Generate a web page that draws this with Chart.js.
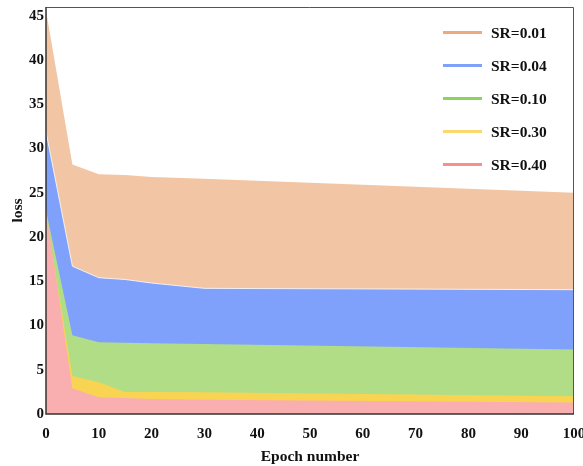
<!DOCTYPE html>
<html><head><meta charset="utf-8">
<script src="https://cdn.jsdelivr.net/npm/chart.js@4.4.0/dist/chart.umd.min.js"></script>
<style>html,body{margin:0;padding:0;background:#fff}#wrap{width:583px;height:466px}</style>
</head><body><div id="wrap"><canvas id="c" width="583" height="466"></canvas></div>
<script>
const epochs = [0, 5, 10, 15, 20, 30, 100];
const labels = ['SR=0.01', 'SR=0.04', 'SR=0.10', 'SR=0.30', 'SR=0.40'];
const sr001 = [45.6, 28.2, 27.1, 27.0, 26.8, 26.6, 25.0];
const sr004 = [31.9, 16.7, 15.4, 15.2, 14.8, 14.2, 14.05];
const sr010 = [23.0, 8.9, 8.1, 8.05, 8.0, 7.9, 7.3];
const sr030 = [22.5, 4.3, 3.6, 2.5, 2.5, 2.45, 2.0];
const sr040 = [23.0, 2.9, 1.9, 1.8, 1.7, 1.6, 1.3];
const yTicks = [0, 5, 10, 15, 20, 25, 30, 35, 40, 45];
const xTicks = [0, 10, 20, 30, 40, 50, 60, 70, 80, 90, 100];

const series = [sr001, sr004, sr010, sr030, sr040];
const fills = ['#F2C6A5', '#7FA0FB', '#B1DD86', '#F9D453', '#F9AFAF'];
const lines = ['#F0A97C', '#7FA0FB', '#8CD45C', '#FBD870', '#F88E8E'];
const FONT = 'Liberation Serif';

const datasets = series.map((s, i) => ({
  label: labels[i],
  data: epochs.map((e, j) => ({x: e, y: s[j]})),
  backgroundColor: fills[i],
  borderColor: i === 1 ? 'rgba(255,255,255,0.8)' : fills[i],
  borderWidth: i === 1 ? 1 : 0,
  pointRadius: 0,
  fill: 'origin',
  tension: 0,
  order: 5 - i,
  legendColor: lines[i]
}));

const legendPlugin = {
  id: 'customLegend',
  afterDraw(chart) {
    const ctx = chart.ctx;
    ctx.save();
    chart.data.datasets.forEach((d, i) => {
      const y = 32.5 + i * 33;
      ctx.strokeStyle = d.legendColor;
      ctx.lineWidth = 3;
      ctx.beginPath(); ctx.moveTo(443, y); ctx.lineTo(482, y); ctx.stroke();
      ctx.fillStyle = '#111';
      ctx.font = 'bold 15.5px "' + FONT + '"';
      ctx.textBaseline = 'middle';
      ctx.textAlign = 'left';
      ctx.fillText(d.label, 491, y + 1);
    });
    const a = chart.chartArea;
    ctx.strokeStyle = '#555';
    ctx.lineWidth = 1;
    ctx.beginPath();
    ctx.moveTo(a.left, a.top + 0.5); ctx.lineTo(a.right - 0.5, a.top + 0.5); ctx.lineTo(a.right - 0.5, a.bottom);
    ctx.stroke();
    ctx.strokeStyle = '#333';
    ctx.lineWidth = 1.5;
    ctx.beginPath();
    ctx.moveTo(a.left, a.top); ctx.lineTo(a.left, a.bottom); ctx.lineTo(a.right, a.bottom);
    ctx.stroke();
    ctx.restore();
  }
};

new Chart(document.getElementById('c'), {
  type: 'line',
  data: { datasets },
  options: {
    responsive: false,
    animation: false,
    layout: { padding: { top: 7, right: 9, left: 0, bottom: 0 } },
    plugins: { legend: { display: false }, tooltip: { enabled: false } },
    scales: {
      x: {
        type: 'linear', min: 0, max: 100,
        afterBuildTicks: s => { s.ticks = xTicks.map(v => ({value: v})); },
        afterFit: s => { s.height = 52; s.paddingLeft = 0; s.paddingRight = 0; },
        grid: { display: false, drawTicks: false },
        border: { display: false },
        ticks: { color: '#111', font: { family: FONT, size: 15, weight: 'bold' }, padding: 11, maxRotation: 0 },
        title: { display: true, text: 'Epoch number', color: '#111', font: { family: FONT, size: 15.5, weight: 'bold' }, padding: { top: 9, bottom: 0 } }
      },
      y: {
        min: 0, max: 46,
        afterBuildTicks: s => { s.ticks = yTicks.map(v => ({value: v})); },
        afterFit: s => { s.width = 46; s.paddingTop = 0; s.paddingBottom = 0; },
        grid: { display: false, drawTicks: false },
        border: { display: false },
        ticks: { color: '#111', font: { family: FONT, size: 15, weight: 'bold' }, padding: 2 },
        title: { display: true, text: 'loss', color: '#111', font: { family: FONT, size: 15.5, weight: 'bold' }, padding: { top: 9, bottom: 0 } }
      }
    }
  },
  plugins: [legendPlugin]
});
</script></body></html>
